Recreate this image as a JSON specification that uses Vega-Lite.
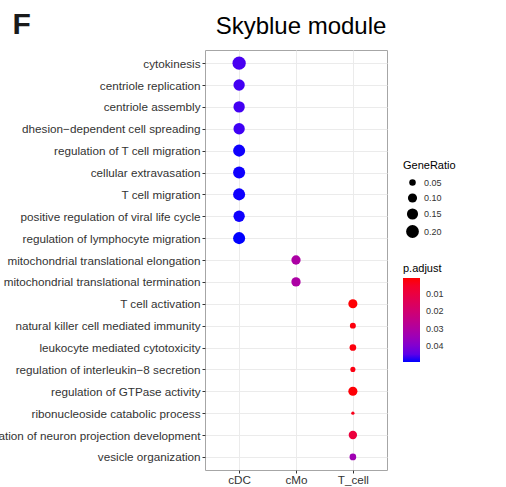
{
  "$schema": "https://vega.github.io/schema/vega-lite/v6.json",
  "autosize": {"type": "none"},
  "padding": {"left": 205, "top": 50, "right": 119, "bottom": 17},
  "width": 182,
  "height": 420,
  "title": {
    "text": "Skyblue module",
    "font": "Liberation Sans",
    "fontSize": 24,
    "fontWeight": "normal",
    "color": "#000000",
    "anchor": "middle",
    "dx": 5,
    "dy": 38,
    "offset": 8
  },
  "data": {
    "values": [
      {"Description": "cytokinesis", "Cluster": "cDC", "GeneRatio": 0.215, "p_adjust": 0.0468},
      {"Description": "centriole replication", "Cluster": "cDC", "GeneRatio": 0.156, "p_adjust": 0.0472},
      {"Description": "centriole assembly", "Cluster": "cDC", "GeneRatio": 0.156, "p_adjust": 0.0472},
      {"Description": "dhesion−dependent cell spreading", "Cluster": "cDC", "GeneRatio": 0.156, "p_adjust": 0.0475},
      {"Description": "regulation of T cell migration", "Cluster": "cDC", "GeneRatio": 0.176, "p_adjust": 0.0493},
      {"Description": "cellular extravasation", "Cluster": "cDC", "GeneRatio": 0.176, "p_adjust": 0.0493},
      {"Description": "T cell migration", "Cluster": "cDC", "GeneRatio": 0.176, "p_adjust": 0.0493},
      {"Description": "positive regulation of viral life cycle", "Cluster": "cDC", "GeneRatio": 0.156, "p_adjust": 0.0493},
      {"Description": "regulation of lymphocyte migration", "Cluster": "cDC", "GeneRatio": 0.176, "p_adjust": 0.0495},
      {"Description": "mitochondrial translational elongation", "Cluster": "cMo", "GeneRatio": 0.104, "p_adjust": 0.031},
      {"Description": "mitochondrial translational termination", "Cluster": "cMo", "GeneRatio": 0.104, "p_adjust": 0.031},
      {"Description": "T cell activation", "Cluster": "T_cell", "GeneRatio": 0.1, "p_adjust": 0.0008},
      {"Description": "natural killer cell mediated immunity", "Cluster": "T_cell", "GeneRatio": 0.042, "p_adjust": 0.0015},
      {"Description": "leukocyte mediated cytotoxicity", "Cluster": "T_cell", "GeneRatio": 0.053, "p_adjust": 0.0015},
      {"Description": "regulation of interleukin−8 secretion", "Cluster": "T_cell", "GeneRatio": 0.03, "p_adjust": 0.002},
      {"Description": "regulation of GTPase activity", "Cluster": "T_cell", "GeneRatio": 0.1, "p_adjust": 0.001},
      {"Description": "ribonucleoside catabolic process", "Cluster": "T_cell", "GeneRatio": 0.011, "p_adjust": 0.003},
      {"Description": "regulation of neuron projection development", "Cluster": "T_cell", "GeneRatio": 0.085, "p_adjust": 0.009},
      {"Description": "vesicle organization", "Cluster": "T_cell", "GeneRatio": 0.053, "p_adjust": 0.034}
    ]
  },
  "mark": {"type": "circle", "opacity": 1, "strokeWidth": 0},
  "encoding": {
    "x": {
      "field": "Cluster",
      "type": "nominal",
      "sort": ["cDC", "cMo", "T_cell"],
      "scale": {"type": "point", "padding": 0.6},
      "axis": {
        "title": null,
        "labelAngle": 0,
        "labelFont": "Liberation Sans",
        "labelFontSize": 11.7,
        "labelColor": "#333333",
        "labelPadding": 1,
        "tickColor": "#333333",
        "tickSize": 3,
        "domain": false,
        "grid": true,
        "gridColor": "#ebebeb",
        "gridWidth": 1
      }
    },
    "y": {
      "field": "Description",
      "type": "nominal",
      "sort": null,
      "scale": {"type": "point", "padding": 0.6},
      "axis": {
        "title": "F",
        "titleAngle": 0,
        "titleAlign": "left",
        "titleBaseline": "alphabetic",
        "titleX": -193,
        "titleY": -17,
        "titleFont": "Liberation Sans",
        "titleFontSize": 30,
        "titleFontWeight": "bold",
        "titleColor": "#1a1a1a",
        "labelFont": "Liberation Sans",
        "labelFontSize": 11.7,
        "labelColor": "#333333",
        "labelPadding": 2,
        "labelLimit": 0,
        "tickColor": "#333333",
        "tickSize": 3,
        "domain": false,
        "grid": true,
        "gridColor": "#ebebeb",
        "gridWidth": 1
      }
    },
    "size": {
      "field": "GeneRatio",
      "type": "quantitative",
      "title": "GeneRatio",
      "scale": {"type": "linear", "zero": false, "domain": [0.01, 0.22], "range": [10, 180]},
      "legend": {
        "orient": "none",
        "legendX": 198,
        "legendY": 110,
        "values": [0.05, 0.1, 0.15, 0.2],
        "format": ".2f",
        "symbolType": "circle",
        "symbolFillColor": "#000000",
        "symbolStrokeWidth": 0,
        "symbolOpacity": 1,
        "symbolOffset": 3,
        "titleFont": "Liberation Sans",
        "titleFontSize": 11,
        "titleFontWeight": "normal",
        "titleColor": "#000000",
        "titlePadding": 7,
        "labelFont": "Liberation Sans",
        "labelFontSize": 9,
        "labelColor": "#333333",
        "labelOffset": 5,
        "rowPadding": 5
      }
    },
    "color": {
      "field": "p_adjust",
      "type": "quantitative",
      "title": "p.adjust",
      "scale": {"type": "linear", "domain": [0.0495, 0.0005], "range": ["#0000ff", "#ff0000"], "interpolate": "lab"},
      "legend": {
        "orient": "none",
        "legendX": 198,
        "legendY": 213,
        "direction": "vertical",
        "values": [0.01, 0.02, 0.03, 0.04],
        "format": ".2f",
        "gradientLength": 84,
        "gradientThickness": 17,
        "gradientStrokeWidth": 0,
        "titleFont": "Liberation Sans",
        "titleFontSize": 11,
        "titleFontWeight": "normal",
        "titleColor": "#000000",
        "titlePadding": 4,
        "labelFont": "Liberation Sans",
        "labelFontSize": 9,
        "labelColor": "#333333",
        "labelOffset": 6
      }
    }
  },
  "config": {
    "view": {"stroke": "#a6a6a6", "strokeWidth": 1},
    "font": "Liberation Sans"
  }
}
